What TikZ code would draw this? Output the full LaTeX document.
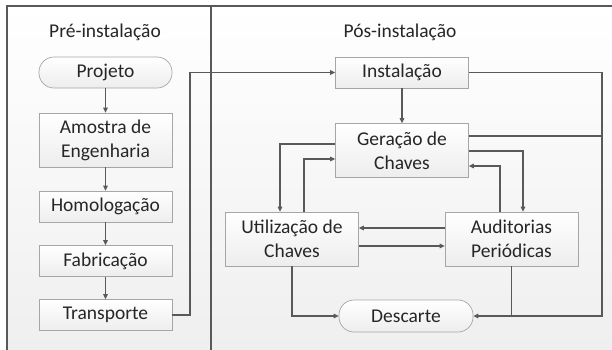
\documentclass[tikz,border=0pt]{standalone}
\usepackage{fontspec}
\setmainfont{Carlito}
\usetikzlibrary{arrows.meta,calc}
\definecolor{linec}{HTML}{595959}
\definecolor{boxline}{HTML}{A6A6A6}
\definecolor{txt}{HTML}{262626}
\begin{document}
\begin{tikzpicture}[x=1pt,y=-1pt,
  box/.style={draw=boxline, line width=0.7pt, top color=white, bottom color=gray!14,
    minimum width=133pt, minimum height=31pt, inner sep=0pt, align=center,
    font=\fontsize{19.5}{24}\selectfont, text=txt},
  tall/.style={minimum height=54pt},
  term/.style={rounded corners=15pt},
  conn/.style={draw=linec, line width=1.4pt},
  arr/.style={conn, -{Triangle[length=5pt,width=4.5pt]}},
  ttl/.style={font=\fontsize{19.5}{24}\selectfont, text=txt}]
\useasboundingbox (0,0) rectangle (612,349);
\clip (0,0) rectangle (612,349);
% panels
\shade[top color=white, bottom color=gray!13] (7,6) rectangle (620,360);
\draw[linec, line width=1.2pt] (7,360) -- (7,6) -- (620,6);
\draw[linec, line width=1.2pt] (211,6) -- (211,360);
\node[ttl] (t1) at (105,32) {Pré-instalação};
\node[ttl] (t2) at (400,32) {Pós-instalação};
% left column
\node[box,term] (proj) at (105.5,72.5) {Projeto};
\node[box,tall] (amo) at (105.5,140) {Amostra de\\Engenharia};
\node[box] (hom) at (105.5,206.5) {Homologação};
\node[box] (fab) at (105.5,261) {Fabricação};
\node[box] (tra) at (105.5,315) {Transporte};
% right side
\node[box] (ins) at (402,72.5) {Instalação};
\node[box,tall] (gen) at (402,150.5) {Geração de\\Chaves};
\node[box,tall] (uti) at (292,239) {Utilização de\\Chaves};
\node[box,tall] (aud) at (511.5,239) {Auditorias\\Periódicas};
\node[box,term,minimum width=134pt,minimum height=32pt] (des) at (406,316) {Descarte};
% helper coordinates
\coordinate (c1) at (190,72.5);
\coordinate (rr) at (602,316);
\coordinate (xa) at (523,0);
\coordinate (xb) at (500,0);
\coordinate (xc) at (280,0);
\coordinate (xd) at (304,0);
% left arrows
\draw[arr] (proj) -- (amo);
\draw[arr] (amo) -- (hom);
\draw[arr] (hom) -- (fab);
\draw[arr] (fab) -- (tra);
\draw[arr] (tra.east) -| (c1) -- (ins.west);
% right arrows
\draw[arr] (ins) -- (gen);
\draw[arr] (ins.east) -| (rr) -- (des.east);
\draw[conn] ([yshift=14.5pt]gen.east) -- ([yshift=14.5pt]gen.east -| rr);
\draw[arr] ([yshift=-0.5pt]gen.east) -| (aud.north -| xa);
\draw[arr] (aud.north -| xb) |- ([yshift=-15.5pt]gen.east);
\draw[arr] ([yshift=6.5pt]gen.west) -| (uti.north -| xc);
\draw[arr] (uti.north -| xd) |- ([yshift=-8.5pt]gen.west);
\draw[arr] ([yshift=11pt]aud.west) -- ([yshift=11pt]uti.east);
\draw[arr] ([yshift=-7pt]uti.east) -- ([yshift=-7pt]aud.west);
\draw[arr] (uti.south) |- (des.west);
\draw[conn] (aud.south) -- (aud.south |- rr);
\end{tikzpicture}
\end{document}
